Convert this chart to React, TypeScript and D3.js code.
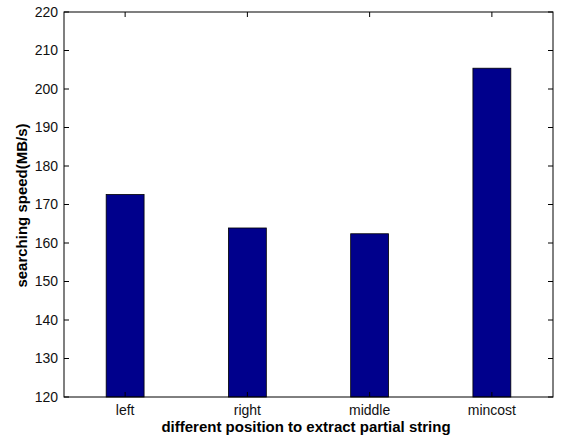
import React, { useEffect, useRef } from "react";
import * as d3 from "d3";

const categories = ["left", "right", "middle", "mincost"];
const speeds = [172.6, 163.9, 162.4, 205.4];
const yTicks = [120, 130, 140, 150, 160, 170, 180, 190, 200, 210, 220];

const W = 563;
const H = 441;
const box = { left: 64, right: 553, top: 12, bottom: 397 };

export default function App() {
  const ref = useRef<SVGSVGElement>(null);

  useEffect(() => {
    const svg = d3.select(ref.current);
    svg.selectAll("*").remove();

    const x = d3.scaleLinear().domain([0.5, 4.5]).range([box.left, box.right]);
    const y = d3.scaleLinear().domain([120, 220]).range([box.bottom, box.top]);
    const barW = 0.31;
    const font = "'Liberation Sans', Arial, sans-serif";

    svg.append("rect")
      .attr("width", W).attr("height", H).attr("fill", "#fff");

    // bars
    svg.append("g")
      .selectAll("rect")
      .data(speeds)
      .join("rect")
      .attr("x", (d, i) => x(i + 1 - barW / 2))
      .attr("width", (d, i) => x(i + 1 + barW / 2) - x(i + 1 - barW / 2))
      .attr("y", (d) => y(d))
      .attr("height", (d) => y(120) - y(d))
      .attr("fill", "#00008c")
      .attr("stroke", "#000")
      .attr("stroke-width", 0.8);

    // frame
    svg.append("rect")
      .attr("x", box.left).attr("y", box.top)
      .attr("width", box.right - box.left).attr("height", box.bottom - box.top)
      .attr("fill", "none").attr("stroke", "#000").attr("stroke-width", 1);

    const tk = 5;
    const g = svg.append("g").attr("stroke", "#000").attr("stroke-width", 1);
    yTicks.forEach((t) => {
      g.append("line").attr("x1", box.left).attr("x2", box.left + tk)
        .attr("y1", y(t)).attr("y2", y(t));
      g.append("line").attr("x1", box.right).attr("x2", box.right - tk)
        .attr("y1", y(t)).attr("y2", y(t));
    });
    categories.forEach((c, i) => {
      g.append("line").attr("x1", x(i + 1)).attr("x2", x(i + 1))
        .attr("y1", box.bottom).attr("y2", box.bottom - tk);
      g.append("line").attr("x1", x(i + 1)).attr("x2", x(i + 1))
        .attr("y1", box.top).attr("y2", box.top + tk);
    });

    svg.append("g")
      .selectAll("text")
      .data(yTicks)
      .join("text")
      .attr("x", box.left - 6)
      .attr("y", (d) => y(d))
      .attr("dy", "0.35em")
      .attr("text-anchor", "end")
      .attr("font-family", font)
      .attr("font-size", 14)
      .attr("fill", "#111")
      .text((d) => d);

    svg.append("g")
      .selectAll("text")
      .data(categories)
      .join("text")
      .attr("x", (d, i) => x(i + 1))
      .attr("y", box.bottom + 18)
      .attr("text-anchor", "middle")
      .attr("font-family", font)
      .attr("font-size", 14)
      .attr("fill", "#111")
      .text((d) => d);

    svg.append("text")
      .attr("x", 306)
      .attr("y", 432)
      .attr("text-anchor", "middle")
      .attr("font-family", font)
      .attr("font-size", 15)
      .attr("font-weight", "bold")
      .text("different position to extract partial string");

    svg.append("text")
      .attr("transform", `translate(27,205.5) rotate(-90)`)
      .attr("text-anchor", "middle")
      .attr("font-family", font)
      .attr("font-size", 15)
      .attr("font-weight", "bold")
      .text("searching speed(MB/s)");
  }, []);

  return (
    <svg
      ref={ref}
      width={W}
      height={H}
      style={{ position: "absolute", left: 0, top: 0 }}
    />
  );
}
